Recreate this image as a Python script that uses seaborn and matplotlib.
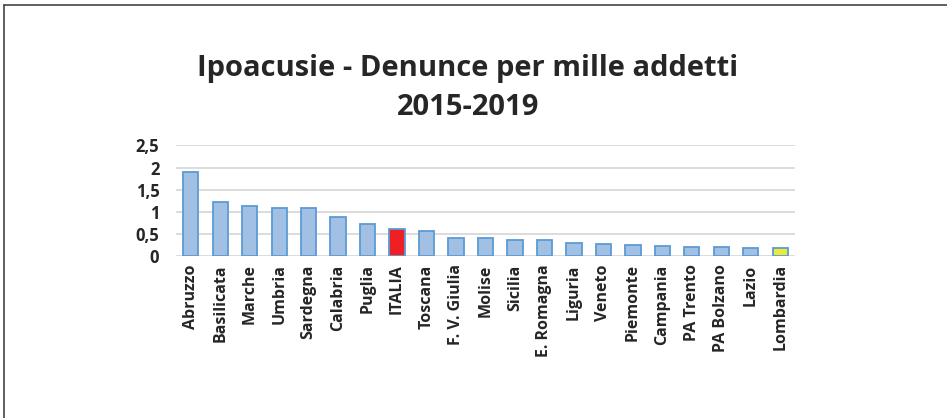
import matplotlib
matplotlib.use("Agg")
import matplotlib.pyplot as plt
from matplotlib.lines import Line2D
import seaborn as sns
import pandas as pd

regions = ["Abruzzo", "Basilicata", "Marche", "Umbria", "Sardegna", "Calabria",
           "Puglia", "ITALIA", "Toscana", "F. V. Giulia", "Molise", "Sicilia",
           "E. Romagna", "Liguria", "Veneto", "Piemonte", "Campania", "PA Trento",
           "PA Bolzano", "Lazio", "Lombardia"]
values = [1.91, 1.23, 1.12, 1.08, 1.08, 0.89, 0.73, 0.60, 0.56, 0.41, 0.41, 0.37,
          0.37, 0.29, 0.27, 0.24, 0.22, 0.21, 0.20, 0.18, 0.17]
yticks = [0, 0.5, 1, 1.5, 2, 2.5]
ytick_labels = ["0", "0,5", "1", "1,5", "2", "2,5"]
title = "Ipoacusie - Denunce per mille addetti\n2015-2019"

df = pd.DataFrame({"region": regions, "value": values})
colors = {r: "#A2C0E4" for r in regions}
colors["ITALIA"] = "#EE2024"
colors["Lombardia"] = "#ECE93E"

sns.set_theme(style="white")
plt.rcParams["font.family"] = ["Open Sans", "DejaVu Sans"]

fig = plt.figure(figsize=(9.47, 4.18), dpi=100)
W, H = 947, 418
ax = fig.add_axes([176 / W, 1 - 256 / H, (795 - 176) / W, (256 - 145.5) / H])

sns.barplot(data=df, x="region", y="value", hue="region", palette=colors,
            legend=False, width=0.52, ax=ax, edgecolor="#5B9BD5", linewidth=1.3,
            saturation=1)

ax.set_ylim(0, 2.5)
ax.set_xlim(-0.5, len(regions) - 0.5)
ax.set_yticks(yticks)
ax.set_yticklabels(ytick_labels, fontsize=12, fontweight="bold", color="#262626")
ax.set_xticks(range(len(regions)))
ax.set_xticklabels(regions, rotation=90, fontsize=11.5, fontweight="bold", color="#262626")
ax.set_xlabel("")
ax.set_ylabel("")
ax.grid(axis="y", color="#D9D9D9", linewidth=1.3)
ax.set_axisbelow(True)
for s in ax.spines.values():
    s.set_visible(False)
ax.tick_params(axis="x", length=0, pad=6)
ax.tick_params(axis="y", length=0, pad=12)

fig.text(468 / W, 1 - 88 / H, title, ha="center", va="center", fontsize=21,
         fontweight="bold", color="#262626", linespacing=1.45)

fig.add_artist(Line2D([4 / W, 4 / W], [0, 1 - 5 / H], color="#444444", linewidth=1.2,
                      transform=fig.transFigure))
fig.add_artist(Line2D([4 / W, 1], [1 - 5 / H, 1 - 5 / H], color="#444444", linewidth=1.2,
                      transform=fig.transFigure))

fig.savefig("out.png", dpi=100)
